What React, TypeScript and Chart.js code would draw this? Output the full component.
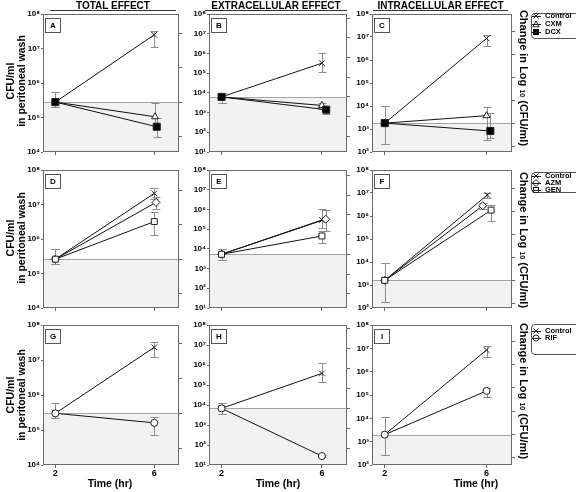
import React, { useEffect, useRef } from 'react';
import { Chart, registerables } from 'chart.js';

Chart.register(...registerables);

// ---------------- data ----------------
const TIME_TICKS = [2, 6];
const X_RANGE = [1.5, 7];
const COL_EXPONENTS = [[4, 8], [1, 8], [2, 8]];
const COLUMN_TITLES = ['TOTAL EFFECT', 'EXTRACELLULAR EFFECT', 'INTRACELLULAR EFFECT'];
const LEGEND_1 = ['Control', 'CXM', 'DCX'];
const LEGEND_2 = ['Control', 'AZM', 'GEN'];
const LEGEND_3 = ['Control', 'RIF'];

// Panel A (total, CXM/DCX)
const A_CONTROL_X = [2, 6];
const A_CONTROL = [2.8e5, 2.5e7];
const A_CONTROL_ERR = [[2.0e5, 5.4e5], [1.1e7, 3.3e7]];
const A_CXM_X = [2, 6.03];
const A_CXM = [2.8e5, 1.05e5];
const A_CXM_ERR = [[2.0e5, 5.4e5], [6.0e4, 2.6e5]];
const A_DCX_X = [2, 6.1];
const A_DCX = [2.8e5, 5.4e4];
const A_DCX_ERR = [[2.0e5, 5.4e5], [2.8e4, 1.0e5]];

// Panel B (extracellular, CXM/DCX)
const B_CONTROL_X = [2, 6];
const B_CONTROL = [6.2e3, 3.2e5];
const B_CONTROL_ERR = [[3.0e3, 9.8e3], [1.2e5, 1.1e6]];
const B_CXM_X = [2, 6];
const B_CXM = [6.2e3, 2.3e3];
const B_CXM_ERR = [[3.0e3, 9.8e3], [1.5e3, 3.2e3]];
const B_DCX_X = [2, 6.17];
const B_DCX = [6.2e3, 1.4e3];
const B_DCX_ERR = [[3.0e3, 9.8e3], [8.0e2, 2.0e3]];

// Panel C (intracellular, CXM/DCX)
const C_CONTROL_X = [2, 6];
const C_CONTROL = [1.8e3, 8.7e6];
const C_CONTROL_ERR = [[2.2e2, 1.0e4], [4.1e6, 1.2e7]];
const C_CXM_X = [2, 6];
const C_CXM = [1.8e3, 3.8e3];
const C_CXM_ERR = [[2.2e2, 1.0e4], [3.3e2, 8.7e3]];
const C_DCX_X = [2, 6.15];
const C_DCX = [1.8e3, 8.2e2];
const C_DCX_ERR = [[2.2e2, 1.0e4], [3.9e2, 5.1e3]];

// Panel D (total, AZM/GEN)
const D_CONTROL_X = [2, 6];
const D_CONTROL = [2.6e5, 2.1e7];
const D_CONTROL_ERR = [[1.9e5, 5.0e5], [1.4e7, 3.0e7]];
const D_AZM_X = [2, 6.07];
const D_AZM = [2.6e5, 1.15e7];
const D_AZM_ERR = [[1.9e5, 5.0e5], [7.2e6, 1.6e7]];
const D_GEN_X = [2, 6];
const D_GEN = [2.6e5, 3.2e6];
const D_GEN_ERR = [[1.9e5, 5.0e5], [1.3e6, 6.2e6]];

// Panel E (extracellular, AZM/GEN)
const E_CONTROL_X = [2, 6];
const E_CONTROL = [5.3e3, 2.9e5];
const E_CONTROL_ERR = [[2.7e3, 9.3e3], [1.1e5, 1.1e6]];
const E_AZM_X = [2, 6.15];
const E_AZM = [5.3e3, 3.2e5];
const E_AZM_ERR = [[2.7e3, 9.3e3], [8.3e4, 9.3e5]];
const E_GEN_X = [2, 6];
const E_GEN = [5.3e3, 4.5e4];
const E_GEN_ERR = [[2.7e3, 9.3e3], [1.9e4, 8.3e4]];

// Panel F (intracellular, AZM/GEN)
const F_CONTROL_X = [2, 6.03];
const F_CONTROL = [1.6e3, 8.2e6];
const F_CONTROL_ERR = [[1.9e2, 9.3e3], [5.9e6, 1.02e7]];
const F_AZM_X = [2, 5.85];
const F_AZM = [1.6e3, 2.8e6];
const F_AZM_ERR = [[1.9e2, 9.3e3], [2.1e6, 3.6e6]];
const F_GEN_X = [2, 6.18];
const F_GEN = [1.6e3, 1.8e6];
const F_GEN_ERR = [[1.9e2, 9.3e3], [6.3e5, 3.0e6]];

// Panel G (total, RIF)
const G_CONTROL_X = [2, 6];
const G_CONTROL = [3.0e5, 2.3e7];
const G_CONTROL_ERR = [[2.2e5, 5.8e5], [1.2e7, 3.3e7]];
const G_RIF_X = [2, 6];
const G_RIF = [3.0e5, 1.6e5];
const G_RIF_ERR = [[2.2e5, 5.8e5], [7.2e4, 2.3e5]];

// Panel H (extracellular, RIF)
const H_CONTROL_X = [2, 6];
const H_CONTROL = [6.8e3, 3.8e5];
const H_CONTROL_ERR = [[3.4e3, 1.2e4], [1.35e5, 1.3e6]];
const H_RIF_X = [2, 6];
const H_RIF = [6.8e3, 2.8e1];
const H_RIF_ERR = [[3.4e3, 1.2e4], [2.6e1, 3.0e1]];

// Panel I (intracellular, RIF)
const I_CONTROL_X = [2, 6];
const I_CONTROL = [2.0e3, 8.5e6];
const I_CONTROL_ERR = [[2.6e2, 1.15e4], [4.1e6, 1.2e7]];
const I_RIF_X = [2, 6];
const I_RIF = [2.0e3, 1.5e5];
const I_RIF_ERR = [[2.6e2, 1.15e4], [8.0e4, 2.0e5]];

// ---------------- styles / layout ----------------
const FONT = '"Liberation Sans", Arial, Helvetica, sans-serif';
const AXIS_COLOR = '#6a6a6a';
const BOX_COLOR = '#6a6a6a';
const SHADE = '#f2f2f2';
const BASE_COLOR = '#a4a4a4';
const ERR_COLOR = '#8c8c8c';
const LINE_COLOR = '#111111';
const MARK_COLOR = '#222222';

const COL_LEFT = [43, 209, 372];
const COL_WIDTH = [136, 138, 140];
const ROW_TOP = [14, 170, 325];
const ROW_HEIGHT = [138, 138, 140];
const Y_AXIS_W = 32;
const Y2_AXIS_W = 6;
const PAD_TOP = 6;
const PAD_RIGHT = 2;

const SERIES_STYLE: any = {
  Control: { pointStyle: 'crossRot', radius: 4, fill: MARK_COLOR },
  CXM: { pointStyle: 'triangle', radius: 4, fill: '#ffffff' },
  DCX: { pointStyle: 'rect', radius: 5, fill: '#000000' },
  AZM: { pointStyle: 'rectRot', radius: 4, fill: '#ffffff' },
  GEN: { pointStyle: 'rect', radius: 4.2, fill: '#ffffff' },
  RIF: { pointStyle: 'circle', radius: 3.5, fill: '#ffffff' },
};

type SeriesDef = { name: string; x: number[]; y: number[]; err: number[][] };
type PanelDef = { letter: string; row: number; col: number; series: SeriesDef[] };

const PANELS: PanelDef[] = [
  { letter: 'A', row: 0, col: 0, series: [
    { name: 'Control', x: A_CONTROL_X, y: A_CONTROL, err: A_CONTROL_ERR },
    { name: 'CXM', x: A_CXM_X, y: A_CXM, err: A_CXM_ERR },
    { name: 'DCX', x: A_DCX_X, y: A_DCX, err: A_DCX_ERR },
  ] },
  { letter: 'B', row: 0, col: 1, series: [
    { name: 'Control', x: B_CONTROL_X, y: B_CONTROL, err: B_CONTROL_ERR },
    { name: 'CXM', x: B_CXM_X, y: B_CXM, err: B_CXM_ERR },
    { name: 'DCX', x: B_DCX_X, y: B_DCX, err: B_DCX_ERR },
  ] },
  { letter: 'C', row: 0, col: 2, series: [
    { name: 'Control', x: C_CONTROL_X, y: C_CONTROL, err: C_CONTROL_ERR },
    { name: 'CXM', x: C_CXM_X, y: C_CXM, err: C_CXM_ERR },
    { name: 'DCX', x: C_DCX_X, y: C_DCX, err: C_DCX_ERR },
  ] },
  { letter: 'D', row: 1, col: 0, series: [
    { name: 'Control', x: D_CONTROL_X, y: D_CONTROL, err: D_CONTROL_ERR },
    { name: 'AZM', x: D_AZM_X, y: D_AZM, err: D_AZM_ERR },
    { name: 'GEN', x: D_GEN_X, y: D_GEN, err: D_GEN_ERR },
  ] },
  { letter: 'E', row: 1, col: 1, series: [
    { name: 'Control', x: E_CONTROL_X, y: E_CONTROL, err: E_CONTROL_ERR },
    { name: 'AZM', x: E_AZM_X, y: E_AZM, err: E_AZM_ERR },
    { name: 'GEN', x: E_GEN_X, y: E_GEN, err: E_GEN_ERR },
  ] },
  { letter: 'F', row: 1, col: 2, series: [
    { name: 'Control', x: F_CONTROL_X, y: F_CONTROL, err: F_CONTROL_ERR },
    { name: 'AZM', x: F_AZM_X, y: F_AZM, err: F_AZM_ERR },
    { name: 'GEN', x: F_GEN_X, y: F_GEN, err: F_GEN_ERR },
  ] },
  { letter: 'G', row: 2, col: 0, series: [
    { name: 'Control', x: G_CONTROL_X, y: G_CONTROL, err: G_CONTROL_ERR },
    { name: 'RIF', x: G_RIF_X, y: G_RIF, err: G_RIF_ERR },
  ] },
  { letter: 'H', row: 2, col: 1, series: [
    { name: 'Control', x: H_CONTROL_X, y: H_CONTROL, err: H_CONTROL_ERR },
    { name: 'RIF', x: H_RIF_X, y: H_RIF, err: H_RIF_ERR },
  ] },
  { letter: 'I', row: 2, col: 2, series: [
    { name: 'Control', x: I_CONTROL_X, y: I_CONTROL, err: I_CONTROL_ERR },
    { name: 'RIF', x: I_RIF_X, y: I_RIF, err: I_RIF_ERR },
  ] },
];

const SUP = '⁰¹²³⁴⁵⁶⁷⁸⁹';
function sup(n: number) {
  return String(n).split('').map((d) => SUP[+d]).join('');
}

function buildConfig(p: PanelDef, xH: number): any {
  const [e0, e1] = COL_EXPONENTS[p.col];
  const baseline = p.series[0].y[0];
  const bl = Math.log10(baseline);
  const isBottom = p.row === 2;
  const n = p.series.length;
  const tickFont = { family: FONT, size: 8, weight: 'bold' };

  const datasets = p.series.map((s, i) => {
    const st = SERIES_STYLE[s.name];
    return {
      label: s.name,
      data: s.x.map((x, j) => ({ x, y: s.y[j] })),
      err: s.err,
      borderColor: LINE_COLOR,
      borderWidth: 1,
      pointStyle: st.pointStyle,
      pointRadius: st.radius,
      pointBackgroundColor: st.fill,
      pointBorderColor: MARK_COLOR,
      pointBorderWidth: 1,
      fill: false,
      tension: 0,
      order: n - i,
    };
  });

  const decor = {
    id: 'decor' + p.letter,
    beforeDatasetsDraw(chart: any) {
      const { ctx, chartArea: a } = chart;
      const xs = chart.scales.x;
      const ys = chart.scales.y;
      const yb = Math.round(ys.getPixelForValue(baseline));
      ctx.save();
      ctx.fillStyle = SHADE;
      ctx.fillRect(a.left, yb, a.right - a.left, a.bottom - yb);
      ctx.strokeStyle = BASE_COLOR;
      ctx.lineWidth = 1;
      ctx.beginPath();
      ctx.moveTo(a.left, yb + 0.5);
      ctx.lineTo(a.right, yb + 0.5);
      ctx.stroke();
      ctx.strokeStyle = ERR_COLOR;
      chart.data.datasets.forEach((ds: any) => {
        ds.err.forEach((e: number[], j: number) => {
          const px = Math.round(xs.getPixelForValue(ds.data[j].x)) + 0.5;
          const y1 = Math.round(ys.getPixelForValue(e[0])) + 0.5;
          const y2 = Math.round(ys.getPixelForValue(e[1])) + 0.5;
          ctx.beginPath();
          ctx.moveTo(px, y1);
          ctx.lineTo(px, y2);
          ctx.moveTo(px - 4, y1);
          ctx.lineTo(px + 4, y1);
          ctx.moveTo(px - 4, y2);
          ctx.lineTo(px + 4, y2);
          ctx.stroke();
        });
      });
      ctx.restore();
    },
    afterDatasetsDraw(chart: any) {
      const { ctx, chartArea: a } = chart;
      ctx.save();
      ctx.strokeStyle = BOX_COLOR;
      ctx.lineWidth = 1;
      ctx.strokeRect(a.left + 0.5, a.top + 0.5, a.right - a.left - 1, a.bottom - a.top - 1);
      ctx.fillStyle = '#ffffff';
      ctx.fillRect(a.left + 2.5, a.top + 4.5, 15, 14);
      ctx.strokeStyle = '#555555';
      ctx.strokeRect(a.left + 2.5, a.top + 4.5, 15, 14);
      ctx.fillStyle = '#000000';
      ctx.font = 'bold 8px ' + FONT;
      ctx.textAlign = 'center';
      ctx.textBaseline = 'middle';
      ctx.fillText(p.letter, a.left + 10, a.top + 12);
      ctx.restore();
    },
  };

  return {
    type: 'line',
    data: { datasets },
    plugins: [decor],
    options: {
      animation: false,
      responsive: false,
      maintainAspectRatio: false,
      events: [],
      layout: { padding: { top: PAD_TOP, right: PAD_RIGHT, left: 0, bottom: 0 } },
      plugins: { legend: { display: false }, tooltip: { enabled: false }, title: { display: false } },
      scales: {
        x: {
          type: 'linear',
          min: X_RANGE[0],
          max: X_RANGE[1],
          afterBuildTicks: (s: any) => {
            s.ticks = TIME_TICKS.map((v) => ({ value: v }));
          },
          afterFit: (s: any) => {
            s.height = xH;
          },
          grid: { display: true, drawOnChartArea: false, drawTicks: true, tickLength: 3, color: AXIS_COLOR },
          border: { display: false },
          ticks: {
            display: isBottom,
            autoSkip: false,
            maxRotation: 0,
            padding: 0,
            color: '#000000',
            font: { family: FONT, size: 9, weight: 'bold' },
            callback: (v: any) => String(v),
          },
        },
        y: {
          type: 'logarithmic',
          position: 'left',
          min: Math.pow(10, e0),
          max: Math.pow(10, e1),
          afterBuildTicks: (s: any) => {
            const t = [];
            for (let k = e0; k <= e1; k++) t.push({ value: Math.pow(10, k) });
            s.ticks = t;
          },
          afterFit: (s: any) => {
            s.width = Y_AXIS_W;
          },
          grid: { display: true, drawOnChartArea: false, drawTicks: true, tickLength: 2, color: AXIS_COLOR },
          border: { display: false },
          ticks: {
            autoSkip: false,
            padding: 1,
            color: '#000000',
            font: tickFont,
            callback: (v: any) => '10' + sup(Math.round(Math.log10(v))),
          },
        },
        y2: {
          type: 'linear',
          position: 'right',
          min: e0 - bl,
          max: e1 - bl,
          afterBuildTicks: (s: any) => {
            const t = [];
            for (let v = Math.ceil(s.min); v <= Math.floor(s.max); v++) t.push({ value: v });
            s.ticks = t;
          },
          afterFit: (s: any) => {
            s.width = Y2_AXIS_W;
          },
          grid: { display: true, drawOnChartArea: false, drawTicks: true, tickLength: 3, color: AXIS_COLOR },
          border: { display: false },
          ticks: { display: false },
        },
      },
    },
  };
}

function PanelChart({ p }: { p: PanelDef }) {
  const ref = useRef<HTMLCanvasElement>(null);
  const xH = p.row === 2 ? 22 : 8;
  const w = Y_AXIS_W + COL_WIDTH[p.col] + Y2_AXIS_W + PAD_RIGHT;
  const h = PAD_TOP + ROW_HEIGHT[p.row] + xH;
  useEffect(() => {
    const chart = new Chart(ref.current as HTMLCanvasElement, buildConfig(p, xH));
    return () => chart.destroy();
  }, []);
  return (
    <canvas
      ref={ref}
      width={w}
      height={h}
      style={{ position: 'absolute', left: COL_LEFT[p.col] - Y_AXIS_W, top: ROW_TOP[p.row] - PAD_TOP, width: w, height: h }}
    />
  );
}

function MarkerShape({ name }: { name: string }) {
  const stroke = MARK_COLOR;
  let shape: any = null;
  if (name === 'Control') shape = <path d="M1.5 1.5 L6.5 6.5 M6.5 1.5 L1.5 6.5" stroke={stroke} strokeWidth={1} fill="none" />;
  if (name === 'CXM') shape = <polygon points="4,1 7.2,6.8 0.8,6.8" fill="#fff" stroke={stroke} strokeWidth={1} />;
  if (name === 'DCX') shape = <rect x={1} y={1} width={6} height={6} fill="#000" />;
  if (name === 'AZM') shape = <polygon points="4,0.5 7.5,4 4,7.5 0.5,4" fill="#fff" stroke={stroke} strokeWidth={1} />;
  if (name === 'GEN') shape = <rect x={1.5} y={1.5} width={5} height={5} fill="#fff" stroke={stroke} strokeWidth={1} />;
  if (name === 'RIF') shape = <circle cx={4} cy={4} r={3} fill="#fff" stroke={stroke} strokeWidth={1} />;
  return (
    <svg width={9} height={8} style={{ position: 'absolute', left: 0, top: 0 }}>
      {shape}
      <path d="M0 4.5 H9" stroke={stroke} strokeWidth={1} />
    </svg>
  );
}

function LegendBox({ items, top, height, rows }: { items: string[]; top: number; height: number; rows: number[] }) {
  return (
    <div
      style={{
        position: 'absolute',
        left: 531,
        top,
        width: 52,
        height,
        border: '1px solid #555',
        borderRadius: 4,
        boxSizing: 'border-box',
        background: '#fff',
      }}
    >
      {items.map((name, i) => (
        <div key={name} style={{ position: 'absolute', left: 0, top: rows[i] - top - 5, height: 8, width: 50 }}>
          <MarkerShape name={name} />
          <span
            style={{
              position: 'absolute',
              left: 13,
              top: 0,
              lineHeight: '8px',
              fontSize: 7.5,
              fontWeight: 'bold',
              whiteSpace: 'nowrap',
              color: '#000',
            }}
          >
            {name}
          </span>
        </div>
      ))}
    </div>
  );
}

const HEADER_POS = [
  { left: 50, width: 126 },
  { left: 205, width: 142 },
  { left: 373, width: 135 },
];
const ROW_CENTERS_LEFT = [81, 238, 395];
const ROW_CENTERS_RIGHT = [78, 240, 391];
const X_TITLE_CENTERS = [110, 278, 476];

export default function App() {
  useEffect(() => {
    Chart.defaults.font.family = FONT;
  }, []);
  return (
    <div
      style={{
        position: 'absolute',
        left: 0,
        top: 0,
        width: 576,
        height: 492,
        overflow: 'hidden',
        background: '#fff',
        fontFamily: FONT,
        color: '#000',
      }}
    >
      {PANELS.map((p) => (
        <PanelChart key={p.letter} p={p} />
      ))}

      {COLUMN_TITLES.map((t, i) => (
        <div
          key={t}
          style={{
            position: 'absolute',
            left: HEADER_POS[i].left,
            top: 0,
            width: HEADER_POS[i].width,
            height: 10,
            borderBottom: '1px solid #333',
            textAlign: 'center',
            fontSize: 10,
            lineHeight: '11px',
            fontWeight: 'bold',
            whiteSpace: 'nowrap',
          }}
        >
          {t}
        </div>
      ))}

      {ROW_CENTERS_LEFT.map((cy, i) => (
        <div
          key={'yl' + i}
          style={{
            position: 'absolute',
            left: 16.5 - 65,
            top: cy - 12,
            width: 130,
            height: 24,
            transform: 'rotate(-90deg)',
            textAlign: 'center',
            fontSize: 10.5,
            lineHeight: '11px',
            fontWeight: 'bold',
            whiteSpace: 'nowrap',
          }}
        >
          CFU/ml
          <br />
          in peritoneal wash
        </div>
      ))}

      {ROW_CENTERS_RIGHT.map((cy, i) => (
        <div
          key={'yr' + i}
          style={{
            position: 'absolute',
            left: 524 - 80,
            top: cy - 7,
            width: 160,
            height: 14,
            transform: 'rotate(90deg)',
            textAlign: 'center',
            fontSize: 11,
            lineHeight: '14px',
            fontWeight: 'bold',
            whiteSpace: 'nowrap',
          }}
        >
          Change in Log <span style={{ fontSize: 7 }}>10</span> (CFU/ml)
        </div>
      ))}

      {X_TITLE_CENTERS.map((cx, i) => (
        <div
          key={'xt' + i}
          style={{
            position: 'absolute',
            left: cx - 40,
            top: 477,
            width: 80,
            height: 12,
            textAlign: 'center',
            fontSize: 10.5,
            lineHeight: '12px',
            fontWeight: 'bold',
            whiteSpace: 'nowrap',
          }}
        >
          Time (hr)
        </div>
      ))}

      <LegendBox items={LEGEND_1} top={13} height={26} rows={[16, 24, 32]} />
      <LegendBox items={LEGEND_2} top={172} height={21} rows={[176, 183, 190]} />
      <LegendBox items={LEGEND_3} top={324} height={31} rows={[331, 338]} />
    </div>
  );
}
